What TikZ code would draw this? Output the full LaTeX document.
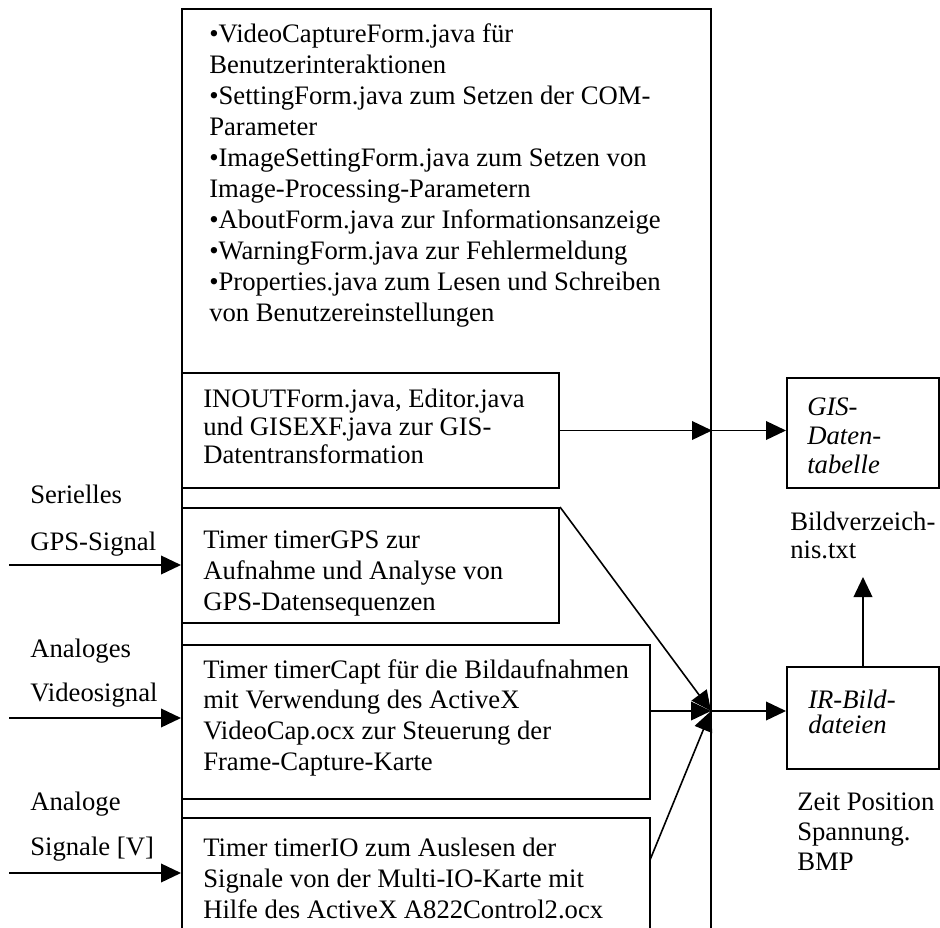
\documentclass[tikz,border=0pt]{standalone}
\usepackage{fontspec}
\setmainfont{Liberation Serif}
\usetikzlibrary{arrows.meta,fit}

% text size 20pt, baseline distance given as argument
\newcommand\fs[1]{\fontsize{20pt}{#1}\selectfont}
% fixes the height of every first line so that north anchors sit 16pt above the first baseline
\newcommand\firstline{\rule{0pt}{16pt}}

\begin{document}
\begin{tikzpicture}[x=0.75pt,y=-0.75pt,
  frame/.style={draw, line width=1.5pt, inner sep=0pt},
  txt/.style={anchor=north west, inner sep=0pt, align=left, yshift=16pt},
  arr/.style={line width=1.2pt, -{Triangle[length=15pt,width=14pt]}}]

\useasboundingbox (0,0) rectangle (940,928);
\clip (0,0) rectangle (940,928);

% program frame and its parts
\node[frame, fit={(182,9) (711,960)}]   (main)  {};
\node[frame, fit={(182,373) (559,488)}] (inout) {};
\node[frame, fit={(182,508) (559,623)}] (gps)   {};
\node[frame, fit={(182,645) (650,799)}] (capt)  {};
\node[frame, fit={(182,818) (650,960)}] (io)    {};

% output files
\node[frame, fit={(787,378) (939,488)}] (gis) {};
\node[frame, fit={(787,667) (939,769)}] (ir)  {};

% texts inside the frame
\node[txt, font=\fs{23.25pt}] (maintext) at (209,42) {\firstline •VideoCaptureForm.java für\\Benutzerinteraktionen\\•SettingForm.java zum Setzen der COM-\\Parameter\\•ImageSettingForm.java zum Setzen von\\Image-Processing-Parametern\\•AboutForm.java zur Informationsanzeige\\•WarningForm.java zur Fehlermeldung\\•Properties.java zum Lesen und Schreiben\\von Benutzereinstellungen};
\node[txt, font=\fs{21pt}] (inouttext) at (203,407) {\firstline INOUTForm.java, Editor.java\\und GISEXF.java zur GIS-\\Datentransformation};
\node[txt, font=\fs{23.25pt}] (gpstext) at (203,548) {\firstline Timer timerGPS zur\\Aufnahme und Analyse von\\GPS-Datensequenzen};
\node[txt, font=\fs{23pt}] (capttext) at (203,678) {\firstline Timer timerCapt für die Bildaufnahmen\\mit Verwendung des ActiveX\\VideoCap.ocx zur Steuerung der\\Frame-Capture-Karte};
\node[txt, font=\fs{23.25pt}] (iotext) at (203,856) {\firstline Timer timerIO zum Auslesen der\\Signale von der Multi-IO-Karte mit\\Hilfe des ActiveX A822Control2.ocx};

% texts of the output files
\node[txt, font=\fs{21.75pt}\itshape] (gistext) at (807,415) {\firstline GIS-\\Daten-\\tabelle};
\node[txt, font=\fs{21pt}] (bild) at (790,530) {\firstline Bildverzeich-\\nis.txt};
\node[txt, font=\fs{19pt}\itshape] (irtext) at (808,708) {\firstline IR-Bild-\\dateien};
\node[txt, font=\fs{22.5pt}] (zeit) at (797,810) {\firstline Zeit Position\\Spannung.\\BMP};

% input signals
\node[txt, font=\fs{35.25pt}] (gpslabel) at (30,503) {\firstline Serielles\\GPS-Signal};
\node[txt, font=\fs{33pt}] (videolabel) at (30,657) {\firstline Analoges\\Videosignal};
\node[txt, font=\fs{33.75pt}] (iolabel) at (30,810) {\firstline Analoge\\Signale [V]};

\coordinate (gpsin)   at (9,565);
\coordinate (videoin) at (9,718);
\coordinate (ioin)    at (9,873);
\draw[arr] (gpsin)   -- (gpsin -| main.west);
\draw[arr] (videoin) -- (videoin -| main.west);
\draw[arr] (ioin)    -- (ioin -| main.west);

% GIS data path
\draw[arr] (inout.east) -- (inout.east -| main.east);
\draw[arr] (inout.east -| main.east) -- (inout.east -| gis.west);

% image data path
\coordinate (hub) at (711,711);
\coordinate (iostart) at (650,860);
\draw[arr] (gps.north east) -- (hub);
\draw[arr] (capt.east |- hub) -- (hub);
\draw[arr] (iostart) -- (hub);
\draw[arr] (hub) -- (hub -| ir.west);

% directory file
\coordinate (bildtip) at (863,577);
\draw[arr] (ir.north) -- (bildtip);
\end{tikzpicture}
\end{document}
